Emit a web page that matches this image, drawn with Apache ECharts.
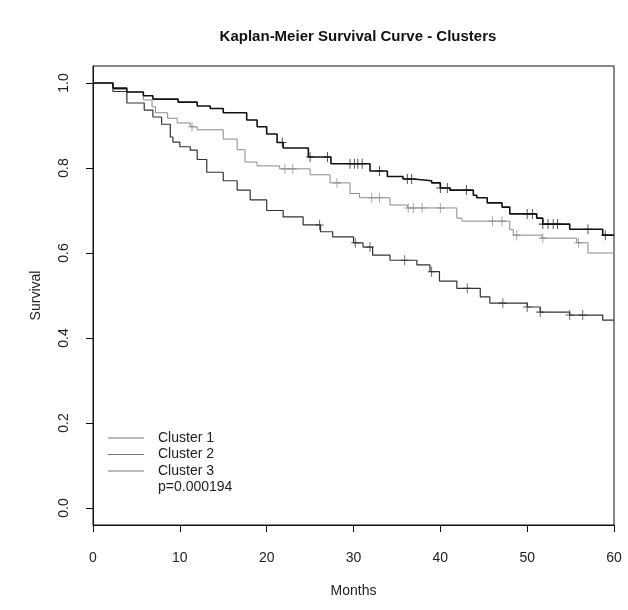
<!DOCTYPE html>
<html>
<head>
<meta charset="utf-8">
<script src="https://cdn.jsdelivr.net/npm/echarts@6/dist/echarts.min.js"></script>
<style>
  html, body { margin: 0; padding: 0; background: #fff; }
  #chart { width: 628px; height: 610px; }
</style>
</head>
<body>
<div id="chart"></div>
<script>
// step curves: time of each drop (months) and survival from that time on
var c1Times = [0, 2.3, 3.9, 5.9, 6.9, 7.9, 8.9, 9.2, 10.0, 11.2, 12.0, 13.1, 15.0, 16.6, 18.1, 20.0, 21.9, 24.2, 26.2, 27.6, 30.0, 31.1, 32.2, 34.2, 37.3, 38.8, 39.9, 41.9, 44.6, 45.7, 50.0, 51.5, 54.9, 58.7, 60];
var c1Surv  = [1.0, 0.98, 0.953, 0.936, 0.92, 0.903, 0.873, 0.861, 0.85, 0.842, 0.82, 0.79, 0.77, 0.748, 0.725, 0.70, 0.685, 0.666, 0.65, 0.638, 0.624, 0.614, 0.595, 0.583, 0.572, 0.556, 0.534, 0.517, 0.497, 0.482, 0.473, 0.461, 0.454, 0.442, 0.442];
var c1Censor = [26.1, 30.2, 31.9, 35.9, 39.0, 43.1, 47.2, 50.0, 51.5, 54.9, 56.4];

var c2Times = [0, 2.3, 3.9, 5.8, 6.8, 7.2, 8.6, 9.7, 11.2, 12.0, 15.0, 16.6, 17.5, 18.9, 21.5, 25.0, 27.3, 29.6, 30.7, 34.2, 36.2, 41.9, 42.5, 48.0, 48.4, 51.7, 55.7, 57.0, 60];
var c2Surv  = [1.0, 0.985, 0.979, 0.96, 0.944, 0.93, 0.917, 0.906, 0.897, 0.89, 0.868, 0.843, 0.814, 0.805, 0.798, 0.784, 0.765, 0.74, 0.73, 0.713, 0.706, 0.682, 0.675, 0.655, 0.642, 0.635, 0.624, 0.60, 0.60];
var c2Censor = [11.4, 22.1, 23.0, 28.1, 32.1, 33.0, 36.3, 36.9, 37.9, 40.0, 46.0, 47.1, 48.8, 51.8, 55.9];

var c3Times = [0, 2.3, 3.9, 5.8, 6.9, 9.8, 12.0, 13.5, 15.0, 17.7, 18.9, 20.0, 21.2, 21.9, 24.8, 27.4, 31.9, 33.9, 35.7, 36.9, 39.0, 40.0, 41.1, 43.8, 44.2, 45.4, 47.1, 48.0, 51.1, 51.8, 54.9, 58.7, 60];
var c3Surv  = [1.0, 0.988, 0.979, 0.97, 0.962, 0.955, 0.946, 0.94, 0.93, 0.913, 0.897, 0.88, 0.86, 0.847, 0.826, 0.81, 0.793, 0.78, 0.774, 0.77, 0.765, 0.753, 0.748, 0.736, 0.73, 0.718, 0.708, 0.692, 0.682, 0.668, 0.656, 0.642, 0.642];
var c3Censor = [21.8, 25.0, 27.0, 29.6, 30.1, 30.5, 31.0, 33.0, 36.2, 36.7, 40.0, 40.8, 43.0, 50.0, 50.6, 51.8, 52.4, 53.0, 53.5, 57.0, 59.0];

var seriesNames = ['Cluster 1', 'Cluster 2', 'Cluster 3'];
var yTicks = [0, 0.2, 0.4, 0.6, 0.8, 1.0];
var pText = 'p=0.000194';

var FONT = 'Liberation Sans';

function pairs(times, surv) {
    return times.map(function (t, i) { return [t, surv[i]]; });
}
// survival value at a censor time
function censorPoints(times, surv, cens) {
    return cens.map(function (t) {
        var s = surv[0];
        for (var i = 0; i < times.length; i++) {
            if (times[i] <= t) s = surv[i];
        }
        return [t, s];
    });
}

var curves = [
    { name: seriesNames[0], times: c1Times, surv: c1Surv, cens: c1Censor, color: '#333333', width: 1.2 },
    { name: seriesNames[1], times: c2Times, surv: c2Surv, cens: c2Censor, color: '#8a8a8a', width: 1 },
    { name: seriesNames[2], times: c3Times, surv: c3Surv, cens: c3Censor, color: '#111111', width: 1.6 }
];

var series = [];
curves.forEach(function (c) {
    series.push({
        name: c.name,
        type: 'line',
        step: 'end',
        symbol: 'none',
        data: pairs(c.times, c.surv),
        lineStyle: { color: c.color, width: c.width },
        itemStyle: { color: c.color },
        animation: false
    });
    series.push({
        name: c.name + ' censored',
        type: 'scatter',
        symbol: 'path://M4,0V10M0,5H8',
        symbolSize: [8, 10],
        data: censorPoints(c.times, c.surv, c.cens),
        itemStyle: { color: 'none', borderColor: c.color, borderWidth: 1 },
        z: 3,
        animation: false
    });
});

var chart = echarts.init(document.getElementById('chart'));
chart.setOption({
    animation: false,
    backgroundColor: '#fff',
    title: {
        text: 'Kaplan-Meier Survival Curve - Clusters',
        left: 353,
        top: 24,
        textAlign: 'center',
        textStyle: { fontFamily: FONT, fontSize: 15, fontWeight: 'bold', color: '#111' }
    },
    grid: {
        left: 93, right: 14, top: 66, bottom: 85,
        show: true, borderColor: '#111', borderWidth: 1
    },
    legend: {
        // all three legend keys look the same thin grey line in the picture
        data: seriesNames.map(function (n) {
            return { name: n, icon: 'path://M0,0H36V1H0Z', itemStyle: { color: '#777', borderWidth: 0 } };
        }),
        orient: 'vertical',
        left: 103,
        top: 426,
        itemWidth: 36,
        itemHeight: 14,
        itemGap: 2.5,
        textStyle: { fontFamily: FONT, fontSize: 14, color: '#222', padding: [0, 0, 0, 9] }
    },
    graphic: [{
        type: 'text',
        left: 158,
        top: 480,
        style: { text: pText, font: '14px "Liberation Sans"', fill: '#222' }
    }],
    xAxis: {
        type: 'value',
        min: 0, max: 60, interval: 10,
        name: 'Months',
        nameLocation: 'middle',
        nameGap: 59,
        nameTextStyle: { fontFamily: FONT, fontSize: 14, color: '#222' },
        axisLine: { show: true, onZero: false, lineStyle: { color: '#111' } },
        axisTick: { length: 7, lineStyle: { color: '#111' } },
        axisLabel: { margin: 26, fontFamily: FONT, fontSize: 14, color: '#222' },
        splitLine: { show: false }
    },
    yAxis: {
        type: 'value',
        min: -0.04, max: 1.04,
        name: 'Survival',
        nameLocation: 'middle',
        nameGap: 50,
        nameTextStyle: { fontFamily: FONT, fontSize: 14, color: '#222' },
        axisLine: { show: true, lineStyle: { color: '#111' } },
        axisTick: { length: 7, customValues: yTicks, lineStyle: { color: '#111' } },
        axisLabel: {
            customValues: yTicks,
            rotate: 90,
            margin: 22,
            fontFamily: FONT, fontSize: 14, color: '#222',
            formatter: function (v) { return v.toFixed(1); }
        },
        splitLine: { show: false }
    },
    series: series
});
</script>
</body>
</html>
